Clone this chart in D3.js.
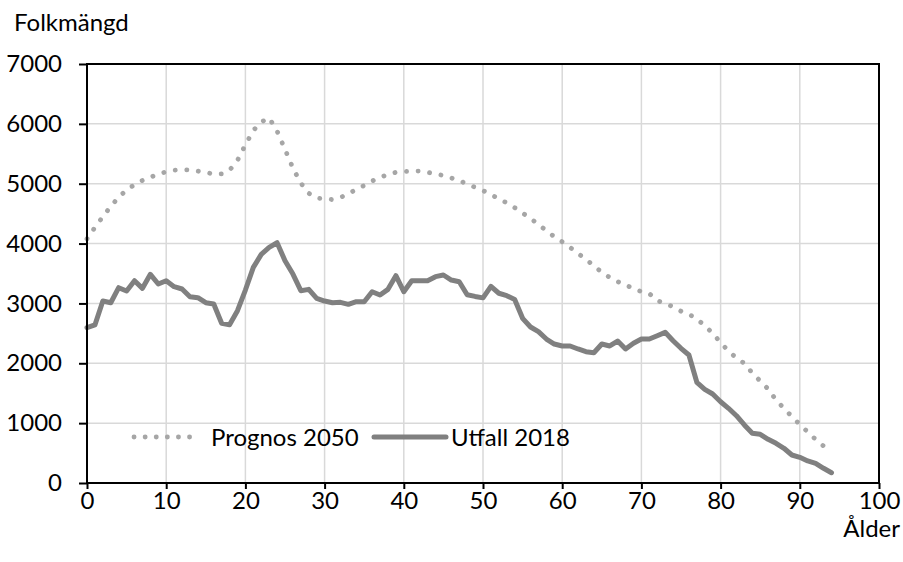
<!DOCTYPE html>
<html><head><meta charset="utf-8">
<script src="https://cdn.jsdelivr.net/npm/d3@7"></script>
<style>body{margin:0;background:#fff}svg{display:block}text{font-family:Lato,"Open Sans",sans-serif;fill:#000}</style>
</head><body><svg id="c" width="903" height="562"></svg>
<script>
const ages = d3.range(0, 95);
const prognos2050 = [4080,4270,4450,4620,4775,4895,4985,5055,5110,5160,5200,5225,5234,5230,5210,5190,5160,5165,5225,5390,5650,5890,6030,6100,5880,5575,5260,5010,4840,4760,4745,4735,4770,4830,4905,4970,5045,5105,5155,5190,5205,5212,5212,5190,5165,5137,5097,5050,5000,4940,4885,4820,4745,4680,4600,4510,4420,4320,4215,4115,4030,3935,3835,3735,3630,3520,3435,3365,3315,3240,3200,3165,3045,3000,2945,2870,2820,2740,2630,2500,2345,2205,2088,2000,1837,1704,1570,1387,1245,1111,977,852,727,618,530];
const utfall2018 = [2595,2640,3040,3012,3263,3207,3380,3252,3486,3324,3380,3280,3241,3112,3096,3012,2990,2668,2645,2878,3224,3603,3820,3937,4014,3714,3490,3213,3235,3085,3040,3012,3018,2985,3029,3029,3196,3140,3235,3464,3196,3380,3380,3380,3447,3475,3391,3363,3145,3117,3093,3285,3170,3130,3065,2751,2606,2528,2405,2322,2289,2289,2239,2194,2177,2322,2289,2372,2239,2334,2405,2405,2461,2517,2377,2250,2138,1682,1565,1487,1358,1248,1124,969,830,814,730,663,580,468,429,368,329,246,172];
const xTicks = [0,10,20,30,40,50,60,70,80,90,100];
const yTicks = [0,1000,2000,3000,4000,5000,6000,7000];
const seriesNames = ["Prognos 2050","Utfall 2018"];
const yTitle = "Folkmängd", xTitle = "Ålder";

const svg = d3.select("#c");
const L = 87, R = 879, T = 64, B = 483;
const x = d3.scaleLinear().domain([0,100]).range([L,R]);
const y = d3.scaleLinear().domain([0,7000]).range([B,T]);
const fs = 24;

// grid
const g = svg.append("g");
g.selectAll(".vg").data(xTicks).join("line").attr("x1",d=>x(d)).attr("x2",d=>x(d)).attr("y1",T).attr("y2",B).attr("stroke","#d9d9d9").attr("stroke-width",1.5);
g.selectAll(".hg").data(yTicks).join("line").attr("x1",L).attr("x2",R).attr("y1",d=>y(d)).attr("y2",d=>y(d)).attr("stroke","#d9d9d9").attr("stroke-width",1.5);

// lines
const line = d3.line().x((d,i)=>x(ages[i])).y(d=>y(d));
svg.append("path").datum(prognos2050).attr("d",line).attr("fill","none").attr("stroke","#a6a6a6").attr("stroke-width",4.8).attr("stroke-linecap","round").attr("stroke-dasharray","0.1 11.5");
svg.append("path").datum(utfall2018).attr("d",line).attr("fill","none").attr("stroke","#808080").attr("stroke-width",5).attr("stroke-linejoin","round").attr("stroke-linecap","round");

// border/axes
svg.append("rect").attr("x",L).attr("y",T).attr("width",R-L).attr("height",B-T).attr("fill","none").attr("stroke","#000").attr("stroke-width",2);
const ya = svg.append("g").attr("transform",`translate(${L},0)`).call(d3.axisLeft(y).tickValues(yTicks).tickSize(8).tickPadding(17).tickFormat(d3.format("d")));
const xa = svg.append("g").attr("transform",`translate(0,${B})`).call(d3.axisBottom(x).tickValues(xTicks).tickSize(6).tickPadding(3).tickFormat(d3.format("d")));
[ya,xa].forEach(a=>{a.select(".domain").remove();a.selectAll("line").attr("stroke","#000").attr("stroke-width",2);a.selectAll("text").attr("font-size",fs).attr("font-family","Lato,'Open Sans',sans-serif").attr("fill","#000");});

svg.append("text").attr("x",14).attr("y",31).attr("font-size",fs).text(yTitle);
svg.append("text").attr("x",900).attr("y",537).attr("text-anchor","end").attr("font-size",fs).text(xTitle);

// legend
const ly = 437;
svg.append("line").attr("x1",134).attr("x2",200).attr("y1",ly).attr("y2",ly).attr("stroke","#a6a6a6").attr("stroke-width",4.8).attr("stroke-linecap","round").attr("stroke-dasharray","0.1 11");
svg.append("text").attr("x",211).attr("y",ly).attr("dy","0.36em").attr("font-size",fs).text(seriesNames[0]);
svg.append("line").attr("x1",374).attr("x2",446).attr("y1",ly).attr("y2",ly).attr("stroke","#808080").attr("stroke-width",5).attr("stroke-linecap","round");
svg.append("text").attr("x",451).attr("y",ly).attr("dy","0.36em").attr("font-size",fs).text(seriesNames[1]);
</script></body></html>
